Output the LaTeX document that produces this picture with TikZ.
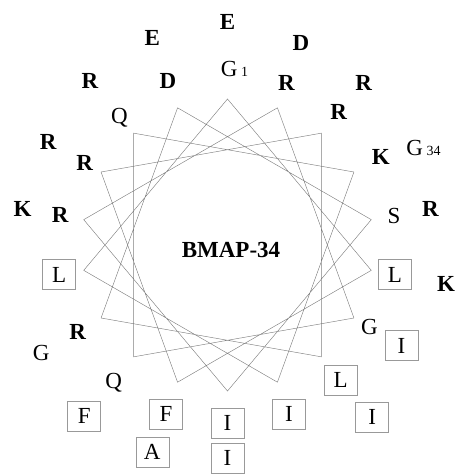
\documentclass[tikz,border=0pt]{standalone}
\usepackage{fontspec}
\setmainfont{Liberation Serif}
\tikzset{
  aa/.style={inner sep=0pt, text height=15pt, text depth=0pt, font=\fontsize{23}{23}\selectfont},
  charged/.style={aa, font=\fontsize{23}{23}\selectfont\bfseries},
  hydro/.style={aa, draw=black!40, line width=0.45pt, minimum width=33pt, minimum height=30pt},
  bond/.style={black!50, line width=0.45pt}
}
\newcommand{\resno}[1]{{\fontsize{14}{14}\selectfont #1}}
\begin{document}
\begin{tikzpicture}[x=1pt,y=1pt]
\useasboundingbox (-227.5,-230) rectangle (228.5,245);

% wheel corners, named by angle round the helix
\coordinate (v0) at (90:146pt);
\coordinate (v20) at (70:146pt);
\coordinate (v40) at (50:146pt);
\coordinate (v60) at (30:146pt);
\coordinate (v80) at (10:146pt);
\coordinate (v100) at (-10:146pt);
\coordinate (v120) at (-30:146pt);
\coordinate (v140) at (-50:146pt);
\coordinate (v160) at (-70:146pt);
\coordinate (v180) at (-90:146pt);
\coordinate (v200) at (-110:146pt);
\coordinate (v220) at (-130:146pt);
\coordinate (v240) at (-150:146pt);
\coordinate (v260) at (-170:146pt);
\coordinate (v280) at (170:146pt);
\coordinate (v300) at (150:146pt);
\coordinate (v320) at (130:146pt);
\coordinate (v340) at (110:146pt);

\draw[bond] (v0) -- (v100) -- (v200) -- (v300) -- (v40) -- (v140) -- (v240) -- (v340) -- (v80)
  -- (v180) -- (v280) -- (v20) -- (v120) -- (v220) -- (v320) -- (v60) -- (v160) -- (v260) -- cycle;

\node[charged] (title) at (3.5,-5) {BMAP-34};

% first turn: residues 1-18
\node[aa] (g1) at (7,176) {G\,\resno{1}};
\node[hydro] (l2) at (-10:170pt) {L};
\node[hydro] (f3) at (-110:180pt) {F};
\node[charged] (r4) at (150:165pt) {R};
\node[charged] (r5) at (50:173pt) {R};
\node[hydro] (l6) at (-50:176pt) {L};
\node[charged] (r7) at (210:173pt) {R};
\node[charged] (d8) at (110:174pt) {D};
\node[aa] (s9) at (10:169pt) {S};
\node[hydro] (i10) at (-90:178pt) {I};
\node[charged] (r11) at (170:170pt) {R};
\node[charged] (r12) at (70:172pt) {R};
\node[aa] (g13) at (-30:164pt) {G};
\node[aa] (q14) at (230:177pt) {Q};
\node[aa] (q15) at (130:168pt) {Q};
\node[charged] (k16) at (30:177pt) {K};
\node[hydro] (i17) at (-70:180pt) {I};
\node[hydro] (l18) at (190:171pt) {L};

% second turn: residues 19-34
\node[charged] (e19) at (90:223pt) {E};
\node[charged] (k20) at (-10:222pt) {K};
\node[hydro] (a21) at (-110:220pt) {A};
\node[charged] (r22) at (150:207pt) {R};
\node[charged] (r23) at (50:212pt) {R};
\node[hydro] (i24) at (-50:225pt) {I};
\node[aa] (g25) at (210:215pt) {G};
\node[charged] (e26) at (110:220pt) {E};
\node[charged] (r27) at (10:206pt) {R};
\node[hydro] (i28) at (-90:213pt) {I};
\node[charged] (k29) at (170:208pt) {K};
\node[charged] (d30) at (70:215pt) {D};
\node[hydro] (i31) at (-30:201pt) {I};
\node[hydro] (f32) at (230:223pt) {F};
\node[charged] (r33) at (130:214pt) {R};
\node[aa] (g34) at (196,97) {G\,\resno{34}};
\end{tikzpicture}
\end{document}
